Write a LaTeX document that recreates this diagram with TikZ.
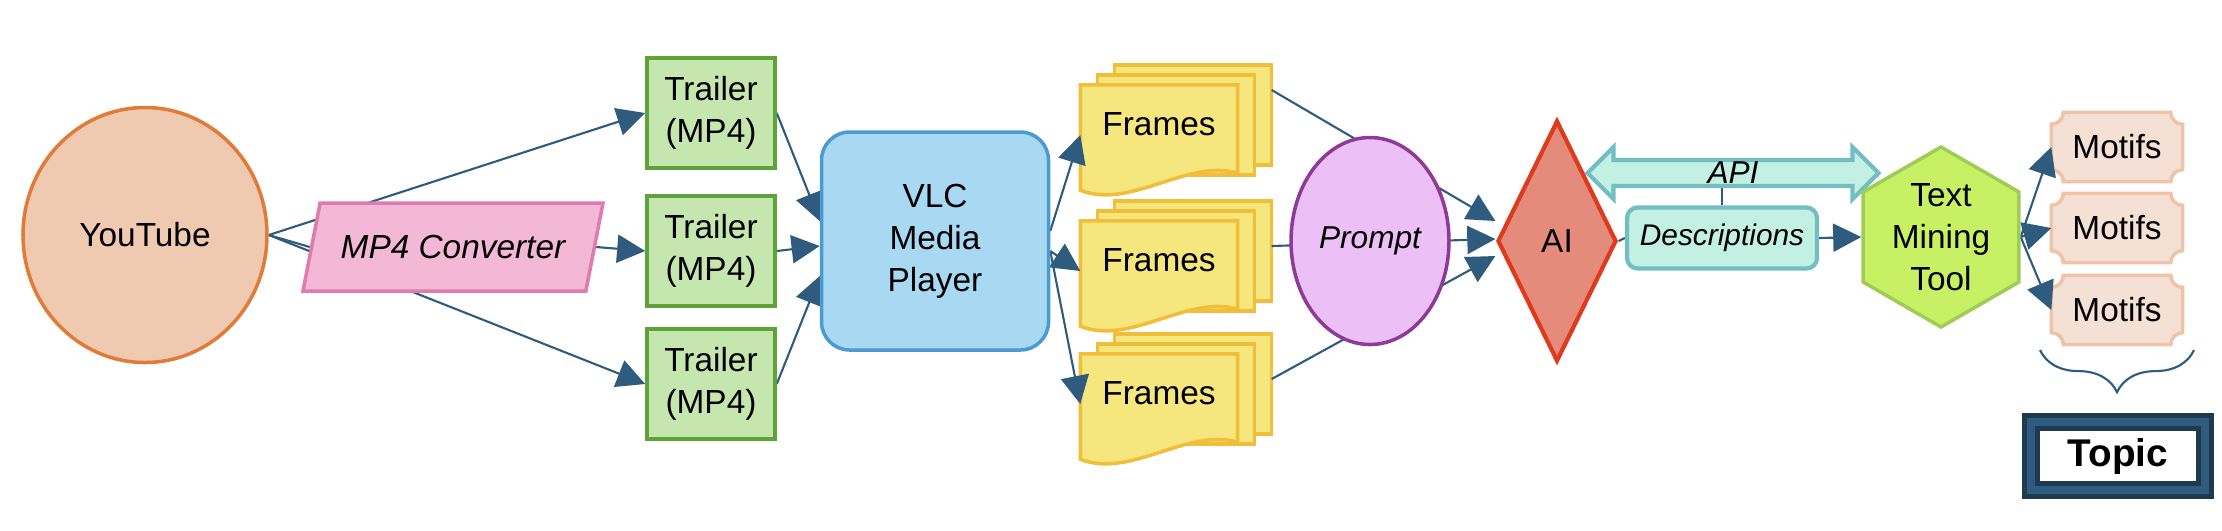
\documentclass[tikz,border=0pt]{standalone}
\usepackage{fontspec}
\setmainfont{Liberation Sans}
\usetikzlibrary{shapes.geometric,shapes.arrows,arrows.meta,backgrounds,decorations.pathreplacing}

\definecolor{ytfill}{HTML}{F0CAB0}\definecolor{ytdraw}{HTML}{E07B3A}
\definecolor{convfill}{HTML}{F2B8D6}\definecolor{convdraw}{HTML}{E07BB0}
\definecolor{trfill}{HTML}{C6E6B0}\definecolor{trdraw}{HTML}{5EA33A}
\definecolor{vlcfill}{HTML}{A8D8F2}\definecolor{vlcdraw}{HTML}{4A9BD2}
\definecolor{frfill}{HTML}{F5E67E}\definecolor{frdraw}{HTML}{F2BE3A}
\definecolor{prfill}{HTML}{ECBFF7}\definecolor{prdraw}{HTML}{8E3A98}
\definecolor{aifill}{HTML}{E58B7C}\definecolor{aidraw}{HTML}{E03A1E}
\definecolor{apifill}{HTML}{C2F0E2}\definecolor{apidraw}{HTML}{72BEC2}
\definecolor{tmfill}{HTML}{C8F065}\definecolor{tmdraw}{HTML}{9ECC55}
\definecolor{motfill}{HTML}{F5E0D5}\definecolor{motdraw}{HTML}{EFC3A8}
\definecolor{edgecol}{HTML}{2E5B7E}\definecolor{topicdark}{HTML}{1E3A50}

\tikzset{
    every node/.style={font=\fontsize{9.5}{12}\selectfont, align=center},
    trailer/.style={rectangle, fill=trfill, draw=trdraw, line width=1pt, minimum width=1.28cm, minimum height=1.1cm},
    frame/.style={fill=frfill, draw=frdraw, line width=1pt},
    motif/.style={fill=motfill, draw=motdraw, line width=1pt},
    link/.style={draw=edgecol, line width=0.6pt},
    arr/.style={link, -{Triangle[length=8pt,width=8pt]}}
}

\begin{document}
\begin{tikzpicture}
    \useasboundingbox (0,0) rectangle (22.22,-5.30);

    \node[ellipse, fill=ytfill, draw=ytdraw, line width=1pt, minimum width=2.44cm, minimum height=2.55cm] (yt) at (1.45,-2.35) {YouTube};
    \node[trapezium, trapezium left angle=70, trapezium right angle=110, trapezium stretches body, fill=convfill, draw=convdraw, line width=1pt, minimum width=3.0cm, minimum height=0.88cm, inner xsep=1pt, font=\fontsize{9.5}{12}\selectfont\itshape] (conv) at (4.53,-2.47) {MP4 Converter};

    \node[trailer] (tr1) at (7.11,-1.13) {Trailer\\(MP4)};
    \node[trailer] (tr2) at (7.11,-2.51) {Trailer\\(MP4)};
    \node[trailer] (tr3) at (7.11,-3.84) {Trailer\\(MP4)};

    \node[rectangle, rounded corners=8pt, fill=vlcfill, draw=vlcdraw, line width=1pt, minimum width=2.27cm, minimum height=2.18cm] (vlc) at (9.35,-2.41) {VLC\\Media\\Player};

    \node[minimum width=1.56cm, minimum height=0.99cm, text depth=6pt] (f1) at (11.59,-1.35) {Frames};
    \node[minimum width=1.56cm, minimum height=0.99cm, text depth=6pt] (f2) at (11.59,-2.71) {Frames};
    \node[minimum width=1.56cm, minimum height=0.99cm, text depth=6pt] (f3) at (11.59,-4.04) {Frames};

    \node[ellipse, fill=prfill, draw=prdraw, line width=1pt, minimum width=1.58cm, minimum height=2.07cm, inner sep=0pt, font=\fontsize{9}{11}\selectfont\itshape] (prompt) at (13.70,-2.41) {Prompt};
    \node[diamond, fill=aifill, draw=aidraw, line width=1.2pt, minimum width=1.19cm, minimum height=2.41cm, inner sep=0pt, aspect=0.5] (ai) at (15.57,-2.41) {AI};

    \node[double arrow, double arrow head extend=0.13cm, fill=apifill, draw=apidraw, line width=1.2pt, minimum height=2.91cm, minimum width=0.38cm, inner sep=0pt, font=\fontsize{9}{11}\selectfont\itshape] (api) at (17.33,-1.73) {API};
    \node[rectangle, rounded corners=3pt, fill=apifill, draw=apidraw, line width=1.2pt, minimum width=1.9cm, minimum height=0.61cm, font=\fontsize{8.5}{10}\selectfont\itshape] (desc) at (17.22,-2.38) {Descriptions};

    \node[regular polygon, regular polygon sides=6, shape border rotate=30, fill=tmfill, draw=tmdraw, line width=1pt, minimum size=1.80cm, inner sep=0pt] (tm) at (19.41,-2.37) {Text\\Mining\\Tool};

    \node[minimum width=1.30cm, minimum height=0.68cm] (m1) at (21.17,-1.47) {Motifs};
    \node[minimum width=1.30cm, minimum height=0.68cm] (m2) at (21.17,-2.28) {Motifs};
    \node[minimum width=1.30cm, minimum height=0.68cm] (m3) at (21.17,-3.10) {Motifs};

    \node[rectangle, fill=white, draw=topicdark, double=edgecol, double distance=2.5pt, line width=1.2pt, minimum width=1.74cm, minimum height=0.68cm, font=\fontsize{11}{13}\selectfont\bfseries] (topic) at (21.18,-4.56) {Topic};

    \coordinate (bl) at (20.40,-3.50);
    \coordinate (br) at (21.94,-3.50);
    \draw[link, decorate, decoration={brace, mirror, amplitude=12pt}] (bl) -- (br);

    \begin{scope}[on background layer]
        % stacked sheets
        \foreach \n in {f1,f2,f3}
        {
            \draw[frame] ([shift={(0.34,0.2)}]\n.south west) rectangle ([shift={(0.34,0.2)}]\n.north east);
            \draw[frame] ([shift={(0.17,0.1)}]\n.south west) rectangle ([shift={(0.17,0.1)}]\n.north east);
            \draw[frame] (\n.north west) -- (\n.north east) -- ([yshift=0.12cm]\n.south east)
                .. controls +(-0.5,0.15) and +(0.5,-0.2) .. ([yshift=-0.05cm]\n.south west) -- cycle;
        }
        % ticket corners
        \def\r{0.12}
        \foreach \n in {m1,m2,m3}
        {
            \draw[motif] ([xshift=\r cm]\n.north west) -- ([xshift=-\r cm]\n.north east)
                arc[start angle=180, end angle=270, radius=\r] -- ([yshift=\r cm]\n.south east)
                arc[start angle=90, end angle=180, radius=\r] -- ([xshift=\r cm]\n.south west)
                arc[start angle=0, end angle=90, radius=\r] -- ([yshift=-\r cm]\n.north west)
                arc[start angle=270, end angle=360, radius=\r] -- cycle;
        }

        \draw[arr] (yt.east) -- (tr1.west);
        \draw[link] (yt.east) -- (conv.west);
        \draw[arr] (conv.east) -- (tr2.west);
        \draw[arr] (yt.east) -- (tr3.west);

        \draw[arr] (tr1.east) -- ([yshift=0.2cm]vlc.west);
        \draw[arr] (tr2.east) -- ([yshift=-0.05cm]vlc.west);
        \draw[arr] (tr3.east) -- ([yshift=-0.35cm]vlc.west);

        \draw[arr] ([yshift=0.1cm]vlc.east) -- (f1.west);
        \draw[arr] ([yshift=-0.1cm]vlc.east) -- (f2.west);
        \draw[arr] ([yshift=-0.1cm]vlc.east) -- (f3.west);

        \draw[arr] ([shift={(0.34,0.45)}]f1.east) -- ([yshift=0.2cm]ai.west);
        \draw[arr] ([shift={(0.34,0.25)}]f2.east) -- ([yshift=0.02cm]ai.west);
        \draw[arr] ([shift={(0.34,0.25)}]f3.east) -- ([yshift=-0.15cm]ai.west);

        \draw[link] (ai.east) -- (desc.west);
        \draw[link] (desc.north) -- (desc.north |- api.center);
        \draw[arr] (desc.east) -- (tm.west);

        \draw[arr] (tm.east) -- (m1.west);
        \draw[arr] (tm.east) -- (m2.west);
        \draw[arr] (tm.east) -- (m3.west);
    \end{scope}
\end{tikzpicture}
\end{document}
